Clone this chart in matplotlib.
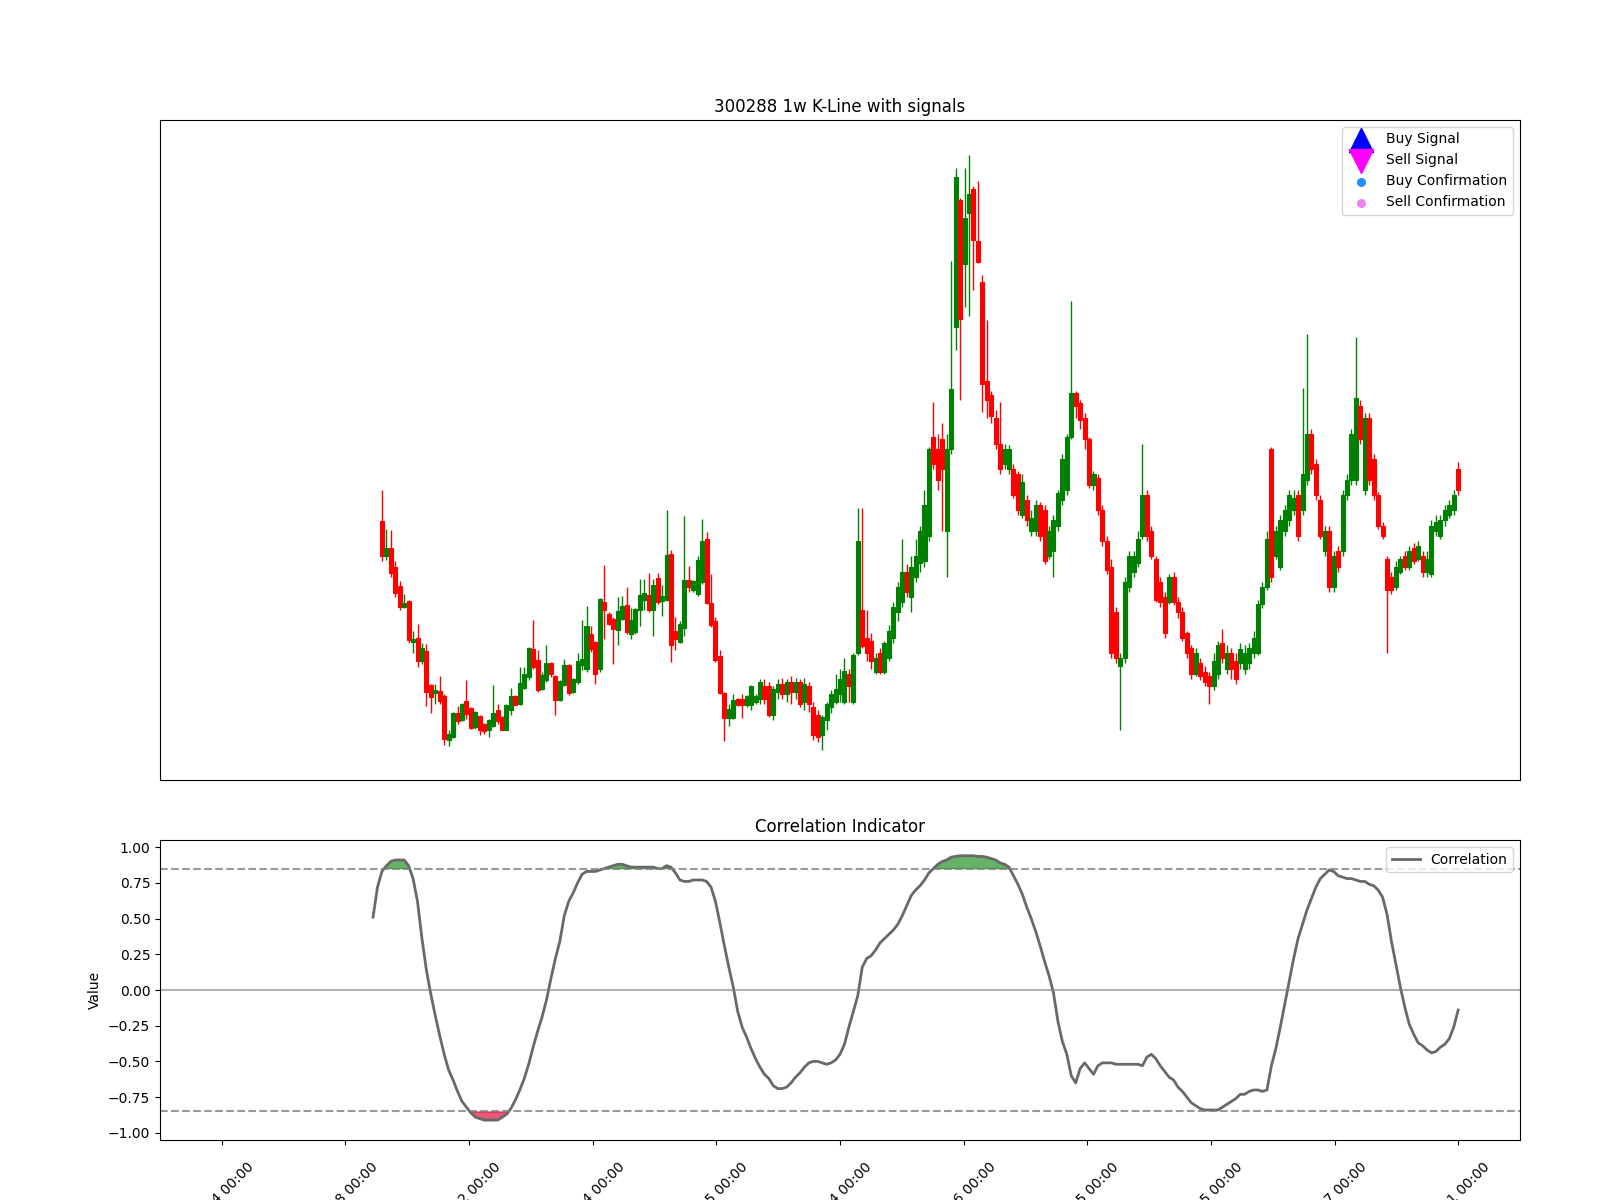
import numpy as np
import matplotlib
matplotlib.use("Agg")
import matplotlib.pyplot as plt

# weekly table: x is the row number, the first rows carry no prices yet
n_rows = 279
first_bar = 36
first_corr = 34

opens = [
    13.95, 12.22, 12.63, 11.67, 10.70, 9.67, 9.95, 7.92, 8.13, 6.97,
    7.45, 5.75, 5.37, 5.45, 5.20, 3.00, 3.17, 4.37, 4.00, 4.95,
    4.63, 3.67, 4.22, 3.80, 3.50, 3.70, 4.53, 4.17, 3.53, 4.50,
    5.20, 4.83, 5.63, 6.17, 7.55, 7.00, 5.58, 6.03, 6.88, 6.20,
    5.00, 5.75, 6.75, 5.42, 5.92, 6.75, 6.58, 8.30, 7.92, 6.58,
    9.92, 9.33, 9.08, 8.53, 9.08, 9.75, 8.33, 8.42, 9.50, 10.00,
    10.25, 9.50, 11.13, 9.97, 10.00, 12.33, 8.45, 7.92, 8.63, 11.03,
    10.50, 10.30, 10.92, 13.05, 9.88, 8.95, 7.20, 5.37, 4.13, 4.13,
    5.08, 5.08, 4.75, 4.75,
    4.90, 5.05, 5.71, 5.71, 4.29, 5.41, 5.82, 5.31, 5.92, 5.41,
    5.92, 4.90, 5.71, 4.69, 4.29, 3.27, 4.03, 4.69, 4.90, 5.31,
    4.90, 6.33, 4.90, 7.35, 9.49, 8.11, 7.96, 6.43, 7.35, 6.43,
    7.09, 8.11, 9.39, 9.90, 11.43, 10.15, 11.17, 11.84, 11.94, 13.21,
    18.16, 17.55, 18.06, 13.47, 17.55, 23.63, 30.00, 26.79, 29.34, 30.54,
    27.96, 25.88, 20.97, 20.26, 19.08, 17.81, 16.79, 16.53, 16.53, 16.28,
    14.23, 15.00, 13.47, 13.47, 14.75, 14.49, 12.19, 12.45, 13.72, 15.00,
    15.51, 18.16, 20.36, 19.85, 19.08, 18.06, 15.77, 16.12, 14.49, 12.96,
    11.68, 9.39, 6.73, 7.09, 10.66, 11.43, 11.84, 13.21, 15.26, 13.47,
    12.04, 10.92, 10.15, 9.90, 11.17, 9.90, 9.39, 8.37, 7.60, 6.33,
    6.84, 6.43, 6.22, 5.71, 6.33, 7.86, 6.58, 7.35, 6.94, 6.84,
    6.58, 6.84, 7.35, 7.35, 9.80, 10.66, 17.55, 12.19, 11.68, 13.47,
    13.98, 14.49, 15.26, 14.49, 16.02, 18.32, 16.79, 15.00, 12.45, 13.47,
    10.66, 12.45, 12.45, 15.26, 16.02, 16.02, 19.69, 15.51, 19.08, 17.04,
    15.26, 13.72, 12.04, 11.17, 10.66, 11.43, 12.19, 11.68, 12.60, 12.04,
    12.19, 11.43, 11.33, 13.47, 13.21, 13.98, 14.23, 14.49, 16.53,
]

highs = [
    15.50, 13.53, 13.50, 11.95, 10.95, 10.33, 10.03, 8.45, 8.83, 7.87,
    7.80, 5.83, 5.83, 6.20, 5.30, 3.53, 4.40, 4.70, 4.88, 6.03,
    4.68, 4.47, 4.25, 3.85, 4.08, 5.75, 4.83, 4.20, 4.83, 5.62,
    5.25, 6.67, 6.67, 7.67, 9.00, 7.50, 6.42, 7.75, 6.92, 6.25,
    6.00, 7.08, 6.80, 6.12, 7.38, 9.00, 9.70, 8.70, 7.97, 10.12,
    11.75, 9.42, 9.17, 10.17, 10.20, 10.67, 9.63, 9.63, 11.08, 11.08,
    11.37, 11.08, 11.37, 10.78, 14.50, 12.53, 9.17, 8.95, 14.20, 11.70,
    11.00, 12.20, 14.03, 13.42, 11.33, 9.17, 7.50, 5.42, 4.83, 5.30,
    5.12, 5.33, 5.28, 5.75,
    5.31, 6.07, 6.07, 5.92, 5.71, 6.07, 6.12, 6.07, 6.22, 6.12,
    6.07, 6.12, 5.92, 4.90, 4.54, 4.29, 4.90, 5.51, 6.33, 6.58,
    7.09, 6.58, 7.35, 14.59, 14.59, 9.49, 8.37, 7.35, 7.60, 7.96,
    8.78, 9.90, 10.92, 13.06, 11.79, 12.19, 13.06, 13.72, 15.51, 17.65,
    19.92, 18.32, 18.83, 18.32, 26.94, 31.58, 30.10, 31.58, 32.21, 30.66,
    30.92, 26.22, 24.00, 20.46, 19.50, 19.92, 17.81, 17.76, 16.79, 16.43,
    16.28, 15.26, 14.49, 15.00, 14.90, 14.75, 13.72, 14.23, 15.51, 17.30,
    18.32, 24.95, 20.46, 20.00, 19.34, 18.16, 16.43, 16.28, 14.75, 13.21,
    12.04, 9.64, 7.35, 11.17, 12.45, 12.45, 13.47, 17.81, 15.51, 13.72,
    12.19, 11.17, 10.41, 11.33, 11.43, 10.15, 9.64, 8.47, 7.76, 7.60,
    7.09, 6.73, 6.43, 7.35, 7.96, 8.57, 7.76, 7.60, 7.35, 7.86,
    7.76, 7.86, 8.47, 10.00, 10.92, 13.47, 17.65, 13.72, 14.23, 14.75,
    15.51, 15.51, 15.51, 20.61, 23.27, 18.57, 17.04, 15.26, 13.72, 13.72,
    12.45, 12.70, 15.51, 16.28, 18.57, 23.16, 20.00, 19.34, 19.34, 17.30,
    15.41, 13.88, 12.19, 11.43, 11.94, 12.19, 12.45, 12.70, 12.86, 12.96,
    12.45, 12.45, 13.98, 14.23, 14.23, 14.75, 15.00, 15.51, 16.89,
]

lows = [
    11.97, 12.03, 11.17, 10.17, 9.50, 9.62, 7.87, 7.37, 6.67, 6.83,
    4.70, 4.37, 4.83, 4.83, 2.75, 2.70, 3.10, 3.83, 3.95, 4.08,
    3.58, 3.58, 3.25, 3.33, 3.17, 3.67, 3.83, 3.50, 3.50, 4.25,
    4.75, 4.75, 5.58, 6.00, 6.58, 5.42, 5.53, 5.92, 6.17, 4.25,
    4.95, 5.70, 5.25, 5.38, 5.83, 6.50, 6.42, 7.42, 5.83, 6.42,
    8.08, 8.75, 6.83, 7.75, 9.00, 8.33, 8.08, 8.33, 8.70, 9.50,
    9.42, 8.22, 9.83, 9.22, 9.97, 6.92, 7.50, 7.87, 8.22, 10.42,
    10.42, 10.20, 10.83, 9.83, 8.67, 6.92, 5.33, 2.97, 3.70, 4.08,
    4.70, 4.13, 4.67, 4.50,
    4.80, 4.80, 4.80, 4.18, 4.03, 5.05, 5.05, 4.90, 4.80, 5.05,
    4.69, 4.54, 4.44, 3.01, 2.91, 2.50, 3.52, 4.39, 4.80, 4.90,
    4.80, 4.90, 4.80, 7.24, 7.60, 6.94, 6.58, 6.33, 6.33, 6.33,
    6.94, 7.86, 8.98, 9.64, 10.15, 9.39, 10.92, 11.43, 11.68, 12.96,
    16.53, 15.51, 13.47, 11.17, 17.30, 22.47, 20.00, 24.66, 24.18, 25.51,
    26.84, 19.41, 19.08, 18.83, 17.55, 16.28, 16.53, 16.28, 15.10, 14.23,
    14.08, 13.72, 13.21, 13.21, 12.96, 11.79, 12.04, 11.17, 13.47, 14.75,
    15.26, 18.06, 19.08, 18.57, 17.55, 15.61, 15.51, 14.23, 12.70, 11.33,
    7.09, 6.84, 3.52, 6.84, 10.41, 11.17, 11.68, 13.06, 12.96, 12.04,
    9.90, 9.64, 8.11, 9.80, 9.74, 9.13, 7.96, 7.09, 6.07, 6.22,
    6.02, 5.71, 4.80, 5.51, 6.07, 6.84, 6.33, 6.07, 5.82, 6.58,
    6.33, 6.58, 7.09, 7.24, 9.59, 10.51, 10.92, 12.04, 11.53, 13.21,
    13.72, 14.23, 12.96, 14.23, 15.77, 16.28, 15.00, 13.06, 12.19, 10.41,
    10.41, 11.43, 12.19, 15.00, 15.77, 15.77, 17.81, 15.26, 15.77, 15.00,
    13.57, 13.06, 7.35, 10.31, 10.51, 11.33, 11.53, 11.53, 11.79, 11.94,
    11.17, 11.17, 11.17, 13.21, 13.06, 13.72, 14.08, 14.23, 15.26,
]

closes = [
    12.22, 12.63, 11.38, 10.37, 9.67, 9.87, 8.00, 8.08, 6.97, 7.63,
    5.42, 5.17, 5.50, 4.97, 3.08, 3.33, 4.37, 3.97, 4.83, 4.33,
    3.63, 4.42, 3.50, 3.47, 4.03, 4.37, 3.97, 3.53, 4.78, 5.23,
    4.78, 5.87, 6.30, 7.63, 6.67, 5.50, 6.25, 6.87, 6.33, 5.00,
    5.97, 6.75, 5.37, 6.08, 6.97, 7.08, 8.70, 7.58, 6.30, 10.08,
    9.50, 8.83, 8.58, 9.47, 9.70, 8.42, 9.00, 9.58, 10.28, 10.37,
    9.50, 10.78, 9.92, 10.20, 12.25, 7.75, 8.08, 8.83, 11.00, 10.67,
    10.95, 12.00, 12.95, 9.87, 8.78, 7.00, 5.37, 4.13, 4.58, 5.00,
    4.75, 4.75, 5.23, 5.70,
    5.20, 5.92, 5.05, 4.29, 5.56, 5.82, 5.31, 5.92, 5.41, 5.92,
    4.80, 5.82, 4.80, 3.27, 3.16, 4.18, 4.80, 5.31, 5.56, 6.07,
    6.48, 5.71, 7.24, 12.96, 7.70, 7.35, 6.94, 7.09, 6.43, 7.86,
    8.47, 9.64, 10.66, 11.43, 10.41, 11.68, 12.19, 13.47, 14.75, 17.55,
    16.79, 16.02, 16.53, 17.55, 20.54, 31.13, 24.03, 29.08, 30.26, 28.01,
    26.87, 20.79, 20.00, 19.18, 17.81, 16.53, 17.55, 17.55, 15.26, 14.49,
    15.92, 13.98, 14.08, 14.75, 13.21, 11.94, 13.47, 13.98, 15.36, 17.04,
    18.16, 20.36, 19.69, 18.98, 18.06, 15.77, 16.28, 14.49, 12.96, 11.53,
    7.35, 7.09, 7.09, 10.92, 12.19, 12.19, 13.06, 15.26, 13.21, 12.19,
    10.00, 9.90, 8.37, 11.17, 9.90, 9.39, 8.11, 7.35, 6.33, 7.35,
    6.22, 5.92, 5.71, 6.94, 7.76, 7.09, 7.35, 6.58, 6.07, 7.55,
    7.35, 7.60, 8.11, 9.80, 10.66, 13.06, 11.17, 13.47, 13.98, 14.49,
    15.26, 15.10, 13.21, 16.28, 18.32, 16.53, 15.26, 13.21, 13.47, 10.66,
    12.19, 11.68, 15.26, 16.02, 18.32, 20.10, 18.06, 19.08, 16.02, 15.26,
    13.72, 13.21, 10.51, 10.51, 11.68, 12.04, 11.68, 12.45, 11.94, 12.70,
    11.43, 12.04, 13.72, 13.88, 13.98, 14.49, 14.75, 15.26, 15.51,
]

correlation = [
    0.51, 0.72, 0.83, 0.87, 0.90, 0.91, 0.91, 0.91, 0.87, 0.78,
    0.62, 0.36, 0.14, -0.03, -0.18, -0.32, -0.45, -0.56, -0.63, -0.71,
    -0.78, -0.82, -0.86, -0.89, -0.90, -0.91, -0.91, -0.91, -0.91, -0.89,
    -0.87, -0.83, -0.77, -0.70, -0.62, -0.52, -0.40, -0.29, -0.19, -0.07,
    0.08, 0.22, 0.34, 0.52, 0.62, 0.68, 0.75, 0.81, 0.83, 0.83,
    0.83, 0.84, 0.85, 0.86, 0.87, 0.88, 0.88, 0.87, 0.86, 0.86,
    0.86, 0.86, 0.86, 0.86, 0.85, 0.85, 0.87, 0.86, 0.82, 0.77,
    0.76, 0.76, 0.77, 0.77, 0.77, 0.76, 0.72, 0.62, 0.47, 0.31,
    0.16, 0.02, -0.15, -0.26, -0.33, -0.41, -0.48, -0.54, -0.59, -0.62,
    -0.67, -0.69, -0.69, -0.68, -0.65, -0.61, -0.58, -0.54, -0.51, -0.50,
    -0.50, -0.51, -0.52, -0.51, -0.49, -0.45, -0.38, -0.26, -0.15, -0.04,
    0.16, 0.22, 0.24, 0.28, 0.33, 0.36, 0.39, 0.42, 0.46, 0.52,
    0.59, 0.66, 0.70, 0.73, 0.77, 0.82, 0.85, 0.88, 0.90, 0.91,
    0.93, 0.935, 0.94, 0.94, 0.94, 0.94, 0.935, 0.935, 0.93, 0.92,
    0.91, 0.89, 0.88, 0.86, 0.80, 0.74, 0.67, 0.58, 0.50, 0.41,
    0.31, 0.20, 0.10, -0.02, -0.22, -0.36, -0.45, -0.60, -0.65, -0.55,
    -0.51, -0.55, -0.59, -0.53, -0.51, -0.51, -0.51, -0.52, -0.52, -0.52,
    -0.52, -0.52, -0.52, -0.53, -0.47, -0.45, -0.48, -0.53, -0.57, -0.61,
    -0.63, -0.68, -0.71, -0.75, -0.79, -0.81, -0.83, -0.84, -0.84, -0.84,
    -0.84, -0.82, -0.80, -0.78, -0.76, -0.73, -0.73, -0.71, -0.70, -0.70,
    -0.71, -0.70, -0.53, -0.41, -0.26, -0.10, 0.06, 0.22, 0.36, 0.46,
    0.56, 0.64, 0.72, 0.78, 0.81, 0.84, 0.83, 0.80, 0.79, 0.78,
    0.78, 0.77, 0.76, 0.76, 0.74, 0.73, 0.70, 0.65, 0.53, 0.34,
    0.18, 0.02, -0.12, -0.24, -0.31, -0.37, -0.39, -0.42, -0.44, -0.43,
    -0.40, -0.38, -0.34, -0.26, -0.14,
]

tick_labels = [
    "11-04 00:00", "05-18 00:00", "12-02 00:00", "06-14 00:00",
    "12-25 00:00", "07-04 00:00", "01-16 00:00", "07-25 00:00",
    "02-05 00:00", "08-17 00:00", "02-21 00:00",
]

upper = 0.85
lower = -0.85

o = np.array(opens)
h = np.array(highs)
l = np.array(lows)
c = np.array(closes)
x = np.arange(first_bar, first_bar + len(o))
colors = np.where(c >= o, "green", "red")

fig = plt.figure(figsize=(16, 12), dpi=100)
ax1 = fig.add_axes([0.1, 0.35, 0.85, 0.55])
ax2 = fig.add_axes([0.1, 0.05, 0.85, 0.25])

# candles
ax1.vlines(x, l, h, colors=colors, linewidth=1)
ax1.bar(x, np.abs(c - o), bottom=np.minimum(o, c), width=0.9,
        color=colors, edgecolor=colors, linewidth=0.8)

# signal layers (none fired in this window, kept for the legend)
ax1.scatter([], [], marker="^", color="blue", s=300, label="Buy Signal")
ax1.scatter([], [], marker="v", color="magenta", s=300, label="Sell Signal")
ax1.scatter([], [], marker="o", color="dodgerblue", s=30, label="Buy Confirmation")
ax1.scatter([], [], marker="o", color="violet", s=30, label="Sell Confirmation")
ax1.legend(loc="upper right")

ax1.set_title("300288 1w K-Line with signals")
ax1.set_xlim(-0.05 * (n_rows - 1), 1.05 * (n_rows - 1))
ax1.set_ylim(1.02, 33.98)
ax1.set_xticks([])
ax1.set_yticks([])

# correlation indicator
xc = np.arange(first_corr, first_corr + len(correlation))
corr = np.array(correlation)
ax2.plot(xc, corr, color="dimgray", linewidth=2, label="Correlation")
ax2.axhline(upper, color="gray", linestyle="--", alpha=0.8)
ax2.axhline(lower, color="gray", linestyle="--", alpha=0.8)
ax2.axhline(0, color="gray", alpha=0.6)
ax2.fill_between(xc, corr, upper, where=corr > upper, color="green",
                 alpha=0.6, interpolate=True)
ax2.fill_between(xc, corr, lower, where=corr < lower, color="crimson",
                 alpha=0.7, interpolate=True)
ax2.set_xlim(-0.05 * (n_rows - 1), 1.05 * (n_rows - 1))
ax2.set_ylim(-1.05, 1.05)
ax2.set_ylabel("Value")
ax2.set_title("Correlation Indicator")
ax2.legend(loc="upper right")
ax2.set_xticks(np.linspace(0, n_rows - 1, len(tick_labels)))
ax2.set_xticklabels(tick_labels, rotation=45)
ax2.tick_params(axis="x", pad=11)

fig.savefig("out.png")
